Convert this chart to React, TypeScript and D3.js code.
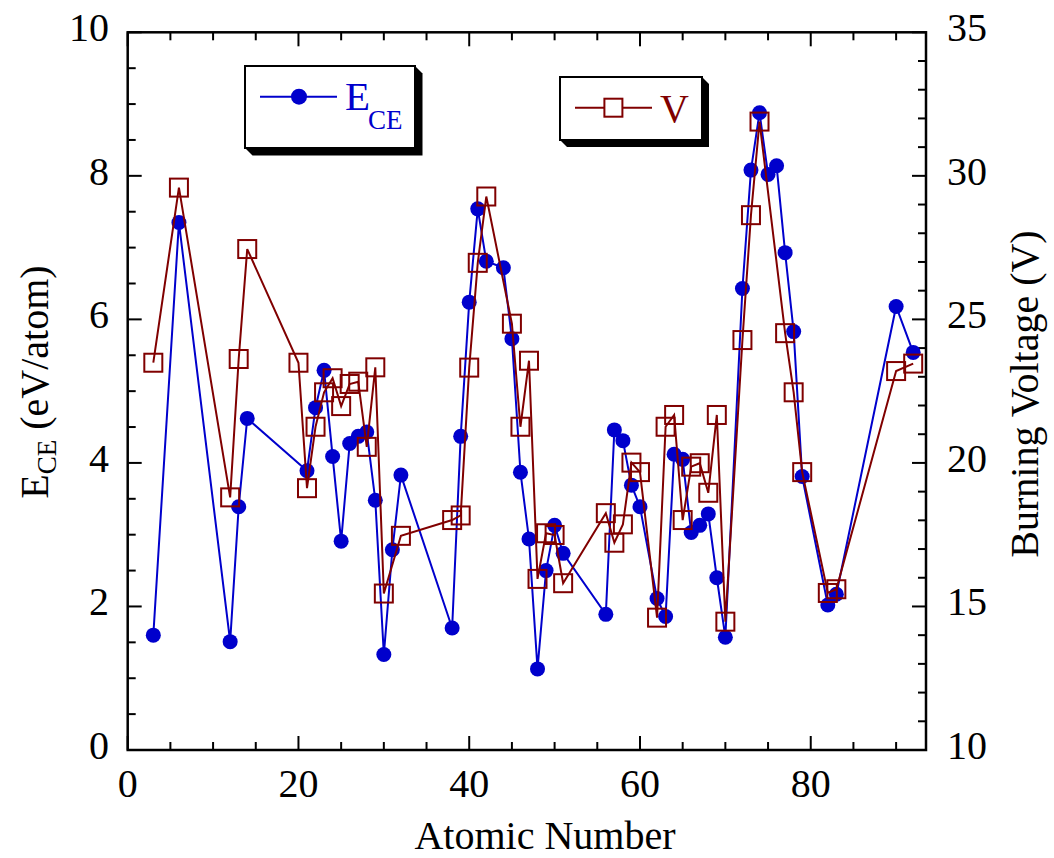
import React from 'react';
import * as d3 from 'd3';

// E_CE series (atomic number, eV/atom)
const atomicE = [3, 6, 12, 13, 14, 21, 22, 23, 24, 25, 26, 27, 28, 29, 30, 31, 32, 38, 39, 40, 41, 42, 44, 45, 46, 47, 48, 49, 50, 51, 56, 57, 58, 59, 60, 62, 63, 64, 65, 66, 67, 68, 69, 70, 72, 73, 74, 75, 76, 77, 78, 79, 82, 83, 90, 92];
const ece = [1.60, 7.35, 1.51, 3.39, 4.62, 3.89, 4.77, 5.29, 4.09, 2.91, 4.27, 4.37, 4.43, 3.48, 1.33, 2.79, 3.83, 1.70, 4.37, 6.24, 7.54, 6.81, 6.72, 5.73, 3.87, 2.94, 1.13, 2.50, 3.13, 2.74, 1.89, 4.46, 4.31, 3.69, 3.39, 2.11, 1.86, 4.12, 4.05, 3.03, 3.13, 3.29, 2.40, 1.57, 6.43, 8.08, 8.88, 8.02, 8.14, 6.93, 5.83, 3.81, 2.02, 2.17, 6.18, 5.54];

// Burning voltage series (atomic number, V)
const atomicV = [3, 6, 12, 13, 14, 20, 21, 22, 23, 24, 25, 26, 27, 28, 29, 30, 32, 38, 39, 40, 41, 42, 45, 46, 47, 48, 49, 50, 51, 56, 57, 58, 59, 60, 62, 63, 64, 65, 66, 67, 68, 69, 70, 72, 73, 74, 77, 78, 79, 82, 83, 90, 92];
const voltage = [23.49, 29.59, 18.80, 23.62, 27.45, 23.49, 19.12, 21.26, 22.46, 22.95, 21.98, 22.75, 22.83, 20.56, 23.33, 15.45, 17.46, 18.01, 18.17, 23.32, 26.97, 29.28, 24.85, 21.26, 23.56, 15.96, 17.55, 17.49, 15.81, 18.25, 17.22, 17.86, 20.01, 19.68, 14.61, 21.26, 21.67, 18.01, 19.87, 19.99, 18.96, 21.67, 14.47, 24.28, 28.63, 31.89, 24.52, 22.46, 19.68, 15.47, 15.60, 23.20, 23.46];

const xTickLabels = [0, 20, 40, 60, 80];
const leftTickLabels = [0, 2, 4, 6, 8, 10];
const rightTickLabels = [10, 15, 20, 25, 30, 35];

const BLUE = '#0000cc';
const RED = '#800000';
const FONT = "'Liberation Serif', 'DejaVu Serif', serif";

export default function App() {
  const W = 1054, H = 858;
  const L = 127.7, R = 926, T = 32.3, B = 750;
  const x = d3.scaleLinear().domain([0, 93.5]).range([L, R]);
  const yE = d3.scaleLinear().domain([0, 10]).range([B, T]);
  const yV = d3.scaleLinear().domain([10, 35]).range([B, T]);

  const eData = atomicE.map((z, i) => [z, ece[i]] as [number, number]);
  const vData = atomicV.map((z, i) => [z, voltage[i]] as [number, number]);

  const lineE = d3.line<[number, number]>().x(d => x(d[0])).y(d => yE(d[1]));
  const lineV = d3.line<[number, number]>().x(d => x(d[0])).y(d => yV(d[1]));

  const xMinor = d3.range(5, 93.5, 5).filter(v => v % 20 !== 0);
  const leftMinor = d3.range(0.5, 10, 0.5).filter(v => v % 2 !== 0);
  const rightMinor = d3.range(11, 35, 1).filter(v => v % 5 !== 0);

  const MAJ = 14, MIN = 8;
  const tickStroke = { stroke: '#000', strokeWidth: 2 };
  const SQ = 18;
  const ts = { fontFamily: FONT };

  const shadowBox = (bx: number, by: number, bw: number, bh: number, off: number) => (
    <g>
      <polygon
        points={`${bx + bw},${by} ${bx + bw + off},${by + off} ${bx + bw + off},${by + bh + off} ${bx + off},${by + bh + off} ${bx},${by + bh}`}
        fill="#000"
      />
      <rect x={bx} y={by} width={bw} height={bh} fill="#fff" stroke="#000" strokeWidth={2} />
    </g>
  );

  return (
    <svg width={W} height={H} style={{ position: 'absolute', left: 0, top: 0, background: '#fff', fontFamily: FONT }}>
      <rect x={0} y={0} width={W} height={H} fill="#fff" />

      {/* x ticks bottom & top */}
      {xTickLabels.map(v => (
        <g key={'xM' + v}>
          <line x1={x(v)} x2={x(v)} y1={B} y2={B - MAJ} {...tickStroke} />
          <line x1={x(v)} x2={x(v)} y1={T} y2={T + MAJ} {...tickStroke} />
          <text x={x(v)} y={797} fontSize={40} textAnchor="middle" fill="#000" style={ts}>{v}</text>
        </g>
      ))}
      {xMinor.map(v => (
        <g key={'xm' + v}>
          <line x1={x(v)} x2={x(v)} y1={B} y2={B - MIN} {...tickStroke} />
          <line x1={x(v)} x2={x(v)} y1={T} y2={T + MIN} {...tickStroke} />
        </g>
      ))}

      {/* left ticks */}
      {leftTickLabels.map(v => (
        <g key={'lM' + v}>
          <line x1={L} x2={L + MAJ} y1={yE(v)} y2={yE(v)} {...tickStroke} />
          <text x={109} y={yE(v) + 9} fontSize={40} textAnchor="end" fill="#000" style={ts}>{v}</text>
        </g>
      ))}
      {leftMinor.map(v => (
        <line key={'lm' + v} x1={L} x2={L + MIN} y1={yE(v)} y2={yE(v)} {...tickStroke} />
      ))}

      {/* right ticks */}
      {rightTickLabels.map(v => (
        <g key={'rM' + v}>
          <line x1={R} x2={R - MAJ} y1={yV(v)} y2={yV(v)} {...tickStroke} />
          <text x={947} y={yV(v) + 9} fontSize={40} textAnchor="start" fill="#000" style={ts}>{v}</text>
        </g>
      ))}
      {rightMinor.map(v => (
        <line key={'rm' + v} x1={R} x2={R - MIN} y1={yV(v)} y2={yV(v)} {...tickStroke} />
      ))}

      {/* frame */}
      <rect x={L} y={T} width={R - L} height={B - T} fill="none" stroke="#000" strokeWidth={2.5} />

      {/* E_CE series */}
      <path d={lineE(eData) || ''} fill="none" stroke={BLUE} strokeWidth={2} />
      {eData.map((d, i) => (
        <circle key={'c' + i} cx={x(d[0])} cy={yE(d[1])} r={7.5} fill={BLUE} />
      ))}

      {/* V series */}
      <path d={lineV(vData) || ''} fill="none" stroke={RED} strokeWidth={2} />
      {vData.map((d, i) => (
        <rect key={'s' + i} x={x(d[0]) - SQ / 2} y={yV(d[1]) - SQ / 2} width={SQ} height={SQ} fill="none" stroke={RED} strokeWidth={2} />
      ))}

      {/* Legend 1 */}
      {shadowBox(245, 66, 170, 82, 7.5)}
      <line x1={260} x2={337} y1={96.7} y2={96.7} stroke={BLUE} strokeWidth={2} />
      <circle cx={299} cy={96.7} r={8} fill={BLUE} />
      <text x={345} y={110} fontSize={41} fill={BLUE} style={ts}>E</text>
      <text x={368} y={129} fontSize={27} fill={BLUE} style={ts}>CE</text>

      {/* Legend 2 */}
      {shadowBox(560, 77, 142, 63, 7)}
      <line x1={575} x2={652} y1={107.7} y2={107.7} stroke={RED} strokeWidth={2} />
      <rect x={613.4 - 9} y={107.7 - 9} width={18} height={18} fill="#fff" stroke={RED} strokeWidth={2} />
      <text x={660} y={121.7} fontSize={40} fill={RED} style={ts}>V</text>

      {/* axis titles */}
      <text x={545} y={849} fontSize={40} textAnchor="middle" fill="#000" style={ts}>Atomic Number</text>
      <text transform={`translate(48,382) rotate(-90)`} fontSize={40} textAnchor="middle" fill="#000" style={ts}>
        E<tspan fontSize={27} dy={8}>CE</tspan><tspan dy={-8}> (eV/atom)</tspan>
      </text>
      <text transform={`translate(1038,394) rotate(-90)`} fontSize={40} textAnchor="middle" fill="#000" style={ts}>Burning Voltage (V)</text>
    </svg>
  );
}
